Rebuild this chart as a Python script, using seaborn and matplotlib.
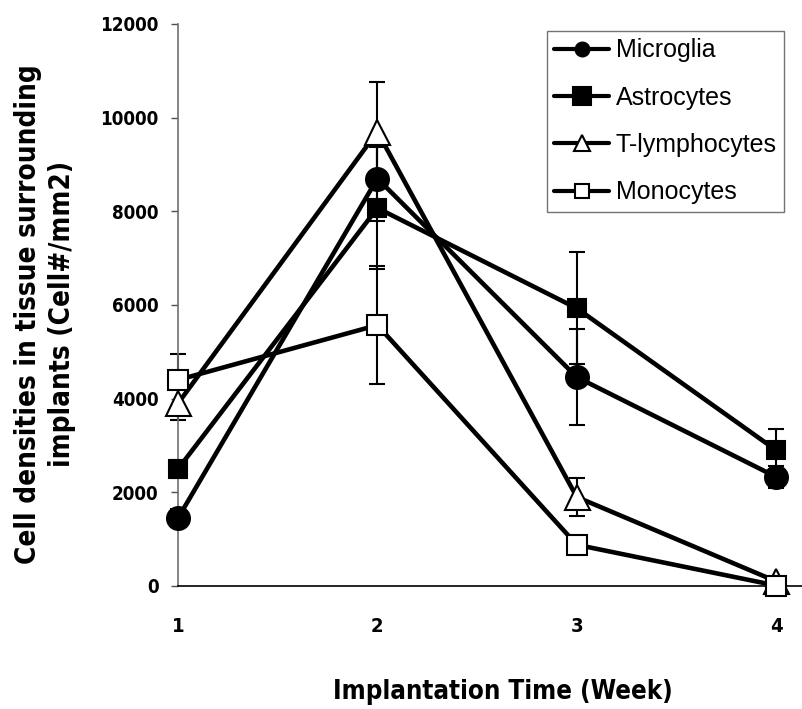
import matplotlib
matplotlib.use("Agg")
import matplotlib.pyplot as plt
from matplotlib.font_manager import FontProperties
import seaborn as sns
import numpy as np

weeks = [1, 2, 3, 4]
cell_types = ["Microglia", "Astrocytes", "T-lymphocytes", "Monocytes"]

microglia = [1450, 8700, 4460, 2330]
microglia_err = [200, 900, 1020, 240]
astrocytes = [2500, 8070, 5930, 2900]
astrocytes_err = [200, 1300, 1200, 450]
t_lymphocytes = [3900, 9700, 1900, 100]
t_lymphocytes_err = [350, 1070, 400, 40]
monocytes = [4400, 5570, 880, 10]
monocytes_err = [560, 1260, 150, 30]

values = [microglia, astrocytes, t_lymphocytes, monocytes]
errors = [microglia_err, astrocytes_err, t_lymphocytes_err, monocytes_err]

# marker, face colour, plot size, legend size
styles = {
    "Microglia": ("o", "black", 16.5, 10),
    "Astrocytes": ("s", "black", 12.5, 13),
    "T-lymphocytes": ("^", "white", 18, 12),
    "Monocytes": ("s", "white", 15, 10)}

sns.set_style("white")
plt.rcParams["font.family"] = ["Liberation Sans", "DejaVu Sans"]
plt.rcParams["text.color"] = "black"
plt.rcParams["xtick.color"] = "black"
plt.rcParams["ytick.color"] = "black"

fig = plt.figure(figsize=(8.02, 7.09), dpi=100)
ax = fig.add_axes([0.222, 0.1735, 0.778, 0.7927])

for name, vals, err in zip(cell_types, values, errors):
    ax.errorbar(weeks, vals, yerr=err, fmt="none", ecolor="black",
                elinewidth=1.5, capsize=5.5, capthick=1.5, zorder=2, clip_on=False)

for name, vals in zip(cell_types, values):
    m, fc, ms, _ = styles[name]
    sns.lineplot(x=weeks, y=vals, ax=ax, color="black", linewidth=3.3,
                 marker=m, markersize=ms, markerfacecolor=fc,
                 markeredgecolor="black", markeredgewidth=1.5,
                 label=name, clip_on=False, zorder=3)

ax.set_xlim(1, 4.13)
ax.set_ylim(0, 12000)
ax.set_xticks(weeks)
ax.set_yticks(np.arange(0, 12001, 2000))
ax.set_xlabel("")
ax.set_ylabel("")

sns.despine(ax=ax)
ax.spines["left"].set_color("#707070")
ax.spines["left"].set_linewidth(1.2)
ax.spines["bottom"].set_color("black")
ax.spines["bottom"].set_linewidth(1.2)

bold_narrow = dict(family="DejaVu Sans", weight="bold", stretch="condensed")
ax.tick_params(axis="y", left=True, length=5, width=1, color="#505050", pad=9)
ax.tick_params(axis="x", bottom=False, length=0, pad=22)
for lab in ax.get_yticklabels():
    lab.set_fontproperties(FontProperties(size=13.5, **bold_narrow))
for lab in ax.get_xticklabels():
    lab.set_fontproperties(FontProperties(size=14.5, **bold_narrow))

fig.text(503 / 802, 1 - 692 / 709, "Implantation Time (Week)",
         ha="center", va="center", fontproperties=FontProperties(size=18.5, **bold_narrow))
fig.text(45 / 802, 1 - 314 / 709, "Cell densities in tissue surrounding\nimplants (Cell#/mm2)",
         ha="center", va="center", rotation=90,
         multialignment="center", linespacing=1.3,
         fontproperties=FontProperties(size=20, **bold_narrow))

leg = ax.legend(loc="upper right", bbox_to_anchor=(784 / 802, 1 - 31 / 709),
                bbox_transform=fig.transFigure, fontsize=18, frameon=True,
                fancybox=False, edgecolor="#505050", handlelength=2.2,
                labelspacing=0.93, handletextpad=0.25, borderpad=0.3,
                borderaxespad=0)
leg.get_frame().set_linewidth(1.0)
for h, name in zip(leg.legend_handles, cell_types):
    h.set_markersize(styles[name][3])
    h.set_linewidth(3)

fig.savefig("out.png", dpi=100)
